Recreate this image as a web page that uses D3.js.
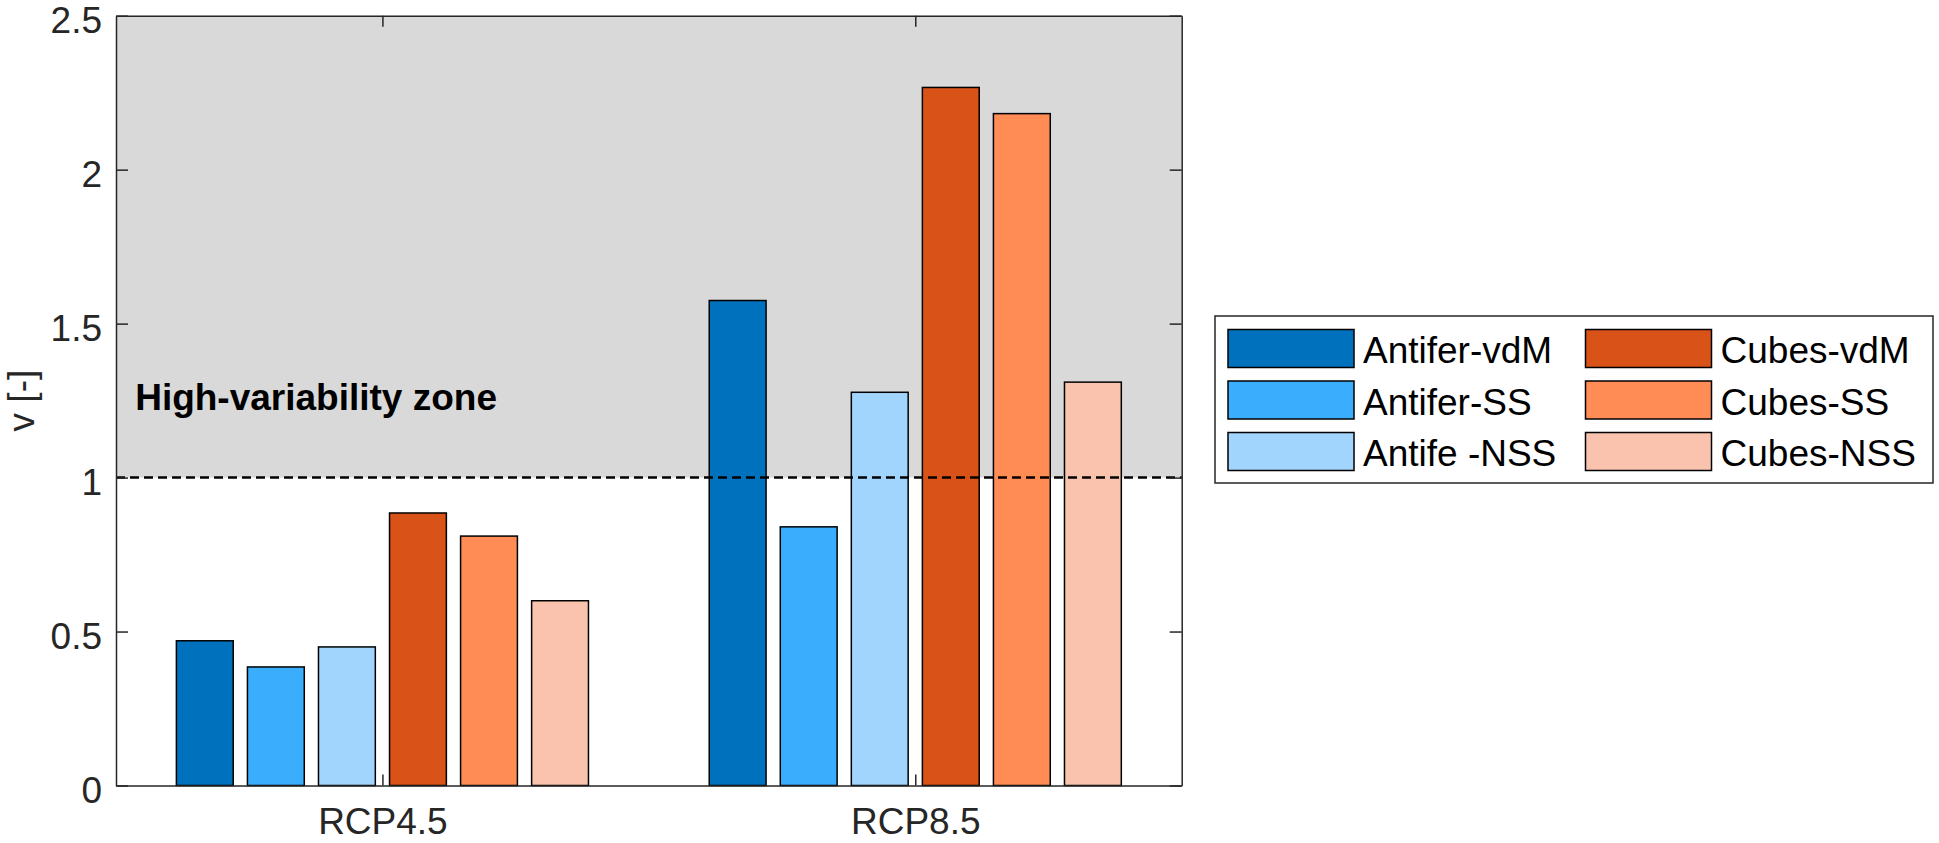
<!DOCTYPE html>
<html lang="en">
<head>
    <meta charset="UTF-8">
    <title>High-variability zone</title>
    <script src="https://cdn.jsdelivr.net/npm/d3@7"></script>
    <style>
        body { margin: 0; background: #fff; }
        text { font-family: "Liberation Sans", Arial, sans-serif; }
    </style>
</head>
<body>
<script>
    // data
    var scenarios = ['RCP4.5', 'RCP8.5']
    var seriesNames = ['Antifer-vdM', 'Antifer-SS', 'Antife -NSS', 'Cubes-vdM', 'Cubes-SS', 'Cubes-NSS']
    var seriesColors = ['#0072bd', '#3aadfd', '#a1d5fd', '#d95319', '#ff8b55', '#fac3ae']
    var rcp45 = [0.47, 0.385, 0.45, 0.885, 0.81, 0.60]
    var rcp85 = [1.575, 0.84, 1.277, 2.267, 2.182, 1.31]
    var yTicks = [0, 0.5, 1, 1.5, 2, 2.5]
    var threshold = 1
    var zoneLabel = 'High-variability zone'

    var width = 1939
        height = 843
        plot = { left: 116, right: 1181.7, top: 15.7, bottom: 785.5 }
        groupWidth = 0.8
        nSeries = seriesNames.length
        step = groupWidth / nSeries
        axisColor = '#262626'

    var values = [rcp45, rcp85]
    var bars = []
    scenarios.forEach(function (s, g) {
        seriesNames.forEach(function (name, i) {
            bars.push({ group: g + 1, series: i, value: values[g][i] })
        })
    })

    var svg = d3.select('body')
        .append('svg')
        .attr('width', width)
        .attr('height', height)

    var x = d3.scaleLinear()
        .domain([0.5, scenarios.length + 0.5])
        .range([plot.left, plot.right])
    var y = d3.scaleLinear()
        .domain([0, 2.5])
        .range([plot.bottom, plot.top])

    // shaded zone above the threshold
    svg.append('rect')
        .attr('x', x(0.5))
        .attr('y', y(2.5))
        .attr('width', x(2.5) - x(0.5))
        .attr('height', y(threshold) - y(2.5))
        .attr('fill', '#d9d9d9')

    svg.append('g')
        .selectAll('rect')
        .data(bars)
        .enter()
        .append('rect')
        .attr('x', d => x(d.group + (d.series - (nSeries - 1) / 2) * step - step * 0.4))
        .attr('width', x(step * 0.8) - x(0))
        .attr('y', d => y(d.value))
        .attr('height', d => y(0) - y(d.value))
        .attr('fill', d => seriesColors[d.series])
        .attr('stroke', '#000')
        .attr('stroke-width', 1.5)

    svg.append('line')
        .attr('x1', x(0.5))
        .attr('x2', x(2.5))
        .attr('y1', y(threshold))
        .attr('y2', y(threshold))
        .attr('stroke', '#000')
        .attr('stroke-width', 2.5)
        .attr('stroke-dasharray', '9,5')

    // axes, box style with inward ticks
    var fmt = d => String(d)
    var xTickVals = scenarios.map((s, i) => i + 1)

    var gLeft = svg.append('g')
        .attr('transform', 'translate(' + plot.left + ',0)')
        .call(d3.axisLeft(y).tickValues(yTicks).tickFormat(fmt).tickSizeInner(-12).tickSizeOuter(0).tickPadding(14))
    var gRight = svg.append('g')
        .attr('transform', 'translate(' + plot.right + ',0)')
        .call(d3.axisRight(y).tickValues(yTicks).tickFormat('').tickSizeInner(-12).tickSizeOuter(0))
    var gBottom = svg.append('g')
        .attr('transform', 'translate(0,' + plot.bottom + ')')
        .call(d3.axisBottom(x).tickValues(xTickVals).tickFormat(d => scenarios[d - 1]).tickSizeInner(-11).tickSizeOuter(0).tickPadding(22))
    var gTop = svg.append('g')
        .attr('transform', 'translate(0,' + plot.top + ')')
        .call(d3.axisTop(x).tickValues(xTickVals).tickFormat('').tickSizeInner(-11).tickSizeOuter(0))

    ;[gLeft, gRight, gBottom, gTop].forEach(function (g) {
        g.selectAll('path, line').attr('stroke', axisColor).attr('stroke-width', 1.5)
        g.selectAll('text').attr('fill', axisColor).style('font-size', '37px')
    })
    gLeft.selectAll('text').attr('dy', '0.45em')

    svg.append('text')
        .attr('transform', 'translate(34,' + (plot.top + plot.bottom) / 2 + ') rotate(-90)')
        .attr('text-anchor', 'middle')
        .attr('fill', axisColor)
        .style('font-size', '37px')
        .text('v [-]')

    svg.append('text')
        .attr('x', x(0.536))
        .attr('y', y(1.219))
        .attr('fill', '#000')
        .style('font-size', '37px')
        .style('font-weight', 'bold')
        .text(zoneLabel)

    // legend, two columns
    var legend = svg.append('g')
    legend.append('rect')
        .attr('x', 1215)
        .attr('y', 316)
        .attr('width', 718)
        .attr('height', 167)
        .attr('fill', '#fff')
        .attr('stroke', axisColor)
        .attr('stroke-width', 1.5)

    var items = legend.selectAll('g.item')
        .data(seriesNames)
        .enter()
        .append('g')
        .attr('class', 'item')
        .attr('transform', (d, i) => 'translate(' + (1228 + Math.floor(i / 3) * 357.5) + ',' + (329.5 + (i % 3) * 51.5) + ')')

    items.append('rect')
        .attr('width', 126)
        .attr('height', 38)
        .attr('fill', (d, i) => seriesColors[i])
        .attr('stroke', '#000')
        .attr('stroke-width', 1.5)

    items.append('text')
        .attr('x', 135)
        .attr('y', 19)
        .attr('dy', '0.4em')
        .attr('fill', '#000')
        .style('font-size', '37px')
        .text(d => d)
</script>
</body>
</html>
